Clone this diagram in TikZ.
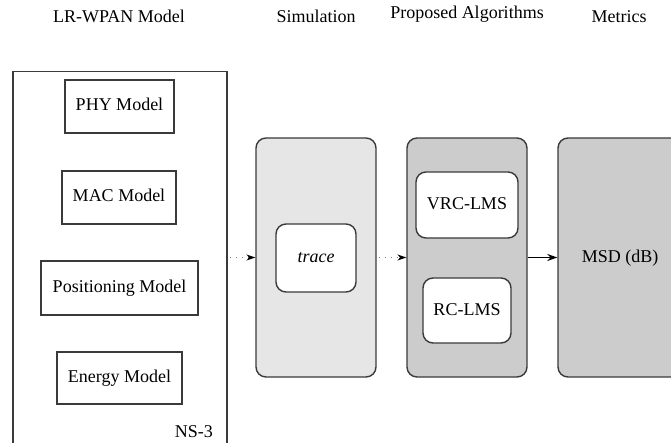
\documentclass[tikz,border=0pt]{standalone}
\usepackage{fontspec}
\setmainfont{Liberation Serif}
\usetikzlibrary{arrows.meta}
\definecolor{edge}{HTML}{3A3A3A}
\definecolor{lightfill}{HTML}{E6E6E6}
\definecolor{darkfill}{HTML}{CCCCCC}
\tikzset{
  heading/.style={anchor=base, inner sep=0pt},
  model/.style={draw=edge, line width=1.4pt, fill=white, inner sep=0pt,
    text height=12pt, text depth=3pt},
  stage/.style={draw=edge, line width=1.4pt, rounded corners=10pt, inner sep=0pt},
  algo/.style={draw=edge, line width=1.4pt, rounded corners=10pt, fill=white,
    inner sep=0pt, text height=12pt, text depth=3pt},
  dotflow/.style={draw=gray, line width=0.9pt, dash pattern=on 1pt off 5pt,
    -{Stealth[length=9pt,width=6pt,black]}},
  solidflow/.style={draw=black, line width=1.4pt,
    -{Stealth[length=10pt,width=7pt]}}
}
\begin{document}
\begin{tikzpicture}[x=1pt, y=-1pt, font=\fontsize{18}{21}\selectfont]
\useasboundingbox (0,0) rectangle (671,443);
\clip (0,0) rectangle (671,443);

% column headings
\node[heading] (h1) at (119,23) {LR-WPAN Model};
\node[heading] (h2) at (316,23) {Simulation};
\node[heading] (h3) at (467,19) {Proposed Algorithms};
\node[heading] (h4) at (619,23) {Metrics};

% NS-3 container with its models
\node[draw=edge, line width=1.4pt, minimum width=214pt, minimum height=372pt,
      inner sep=0pt] (ns3) at (120,257.5) {};
\node[anchor=base east, inner sep=0pt] (ns3label) at (213,437) {NS-3};
\node[model, minimum width=109pt, minimum height=53pt] (phy) at (119.5,106.5) {PHY Model};
\node[model, minimum width=114pt, minimum height=53pt] (mac) at (119,197.5) {MAC Model};
\node[model, minimum width=157pt, minimum height=54pt] (pos) at (119.5,288) {Positioning Model};
\node[model, minimum width=125pt, minimum height=52pt] (energy) at (119.5,378) {Energy Model};

% simulation stage
\node[stage, fill=lightfill, minimum width=120pt, minimum height=239pt] (sim) at (316,257.5) {};
\node[algo, minimum width=80pt, minimum height=68pt] (trace) at (316,258) {\itshape trace};

% algorithm stage
\node[stage, fill=darkfill, minimum width=120pt, minimum height=239pt] (alg) at (467,257.5) {};
\node[algo, minimum width=102pt, minimum height=66pt] (vrc) at (467,205) {VRC-LMS};
\node[algo, minimum width=88pt, minimum height=65pt] (rc) at (467,310.5) {RC-LMS};

% metrics stage
\node[stage, fill=darkfill, minimum width=134pt, minimum height=239pt] (met) at (625,257.5) {};
\node[inner sep=0pt] (msd) at (620,258) {MSD (dB)};

% flow between stages
\draw[dotflow] ([xshift=2pt]ns3.east) -- (sim.west);
\draw[dotflow] ([xshift=2pt]sim.east) -- (alg.west);
\draw[solidflow] (alg.east) -- (met.west);
\end{tikzpicture}
\end{document}
